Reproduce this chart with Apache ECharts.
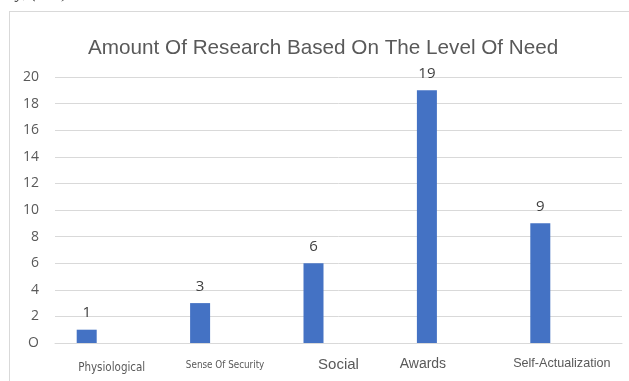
<!DOCTYPE html>
<html>
<head>
<meta charset="utf-8">
<script src="https://cdn.jsdelivr.net/npm/echarts@6/dist/echarts.min.js"></script>
<style>html,body{margin:0;padding:0;background:#fff;}#c{width:629px;height:381px;}</style>
</head>
<body>
<div id="c"></div>
<script>
const categories = ['Physiological', 'Sense Of Security', 'Social', 'Awards', 'Self-Actualization'];
const researchCounts = [1, 3, 6, 19, 9];
const yTickLabels = ['O', '2', '4', '6', '8', '10', '12', '14', '16', '18', '20'];
const titleText = 'Amount Of Research Based On The Level Of Need';
const richKeys = ['a', 'b', 'c', 'd', 'e'];

const chart = echarts.init(document.getElementById('c'));
chart.setOption({
  animation: false,
  backgroundColor: '#fff',
  title: {
    text: titleText,
    left: 83,
    top: 33,
    textStyle: { fontFamily: 'Liberation Sans', fontSize: 20.7, fontWeight: 'normal', color: '#595959' }
  },
  grid: { left: 55, right: 7, top: 77, bottom: 38, containLabel: false },
  xAxis: {
    type: 'category',
    data: categories,
    axisLine: { show: true, lineStyle: { color: '#d9d9d9' } },
    axisTick: { show: false },
    axisLabel: {
      margin: 14,
      interval: 0,
      formatter: function (v, i) { return '{' + richKeys[i] + '|' + v + '}'; },
      rich: {
        a: { fontFamily: '"Liberation Sans Narrow", "DejaVu Sans Condensed", sans-serif', fontSize: 11.5, color: '#595959', padding: [5, 0, 0, 0] },
        b: { fontFamily: '"Liberation Sans Narrow", "DejaVu Sans Condensed", sans-serif', fontSize: 9.8, color: '#595959', padding: [3, 0, 0, 0] },
        c: { fontFamily: 'Liberation Sans', fontSize: 15, color: '#595959' },
        d: { fontFamily: 'Liberation Sans', fontSize: 14, color: '#595959', padding: [0, 58, 0, 0] },
        e: { fontFamily: 'Liberation Sans', fontSize: 12.6, color: '#595959', padding: [0, 7, 0, 0] }
      }
    }
  },
  yAxis: {
    type: 'value',
    min: 0,
    max: 20,
    interval: 2,
    axisLine: { show: false },
    axisTick: { show: false },
    splitLine: { lineStyle: { color: '#d9d9d9', width: 1 } },
    axisLabel: {
      margin: 16,
      fontFamily: 'Open Sans',
      fontSize: 14,
      color: '#595959',
      formatter: function (v) { return yTickLabels[Math.round(v / 2)]; }
    }
  },
  series: [
    {
      type: 'bar',
      data: researchCounts,
      barWidth: 20,
      barGap: '150%',
      itemStyle: { color: '#4472C4' },
      label: { show: true, position: 'top', distance: 9, fontFamily: 'Open Sans', fontSize: 15, color: '#404040' }
    },
    {
      type: 'bar',
      data: categories.map(function () { return null; }),
      barWidth: 20,
      itemStyle: { color: 'transparent' }
    }
  ],
  graphic: [
    { type: 'line', shape: { x1: 9, y1: 11.5, x2: 629, y2: 11.5 }, style: { stroke: '#d9d9d9', lineWidth: 1 } },
    { type: 'line', shape: { x1: 9.5, y1: 11, x2: 9.5, y2: 381 }, style: { stroke: '#d9d9d9', lineWidth: 1 } },
    { type: 'text', x: 16, y: -15, style: { text: 'y, (      )', font: 'italic 17px "Liberation Serif"', fill: '#333' } }
  ]
});
</script>
</body>
</html>
